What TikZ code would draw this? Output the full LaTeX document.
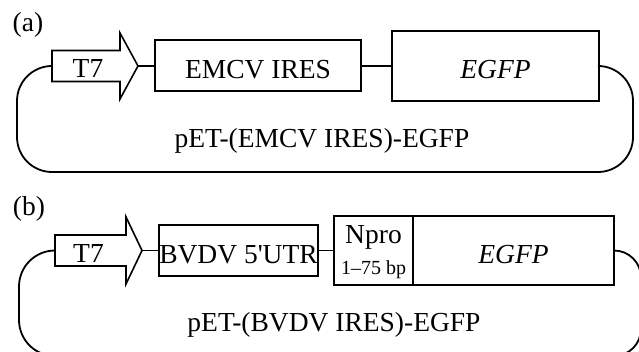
\documentclass[tikz,border=0pt]{standalone}
\usepackage{fontspec}
\setmainfont{Liberation Serif}

\tikzset{
  part/.style={draw, line width=2pt, inner sep=0pt, text height=26pt, text depth=0pt,
    font=\fontsize{27.5}{32}\selectfont},
  lbl/.style={inner sep=0pt, anchor=base, font=\fontsize{27.5}{32}\selectfont},
  wire/.style={line width=1.8pt},
}

\begin{document}
\begin{tikzpicture}[x=1pt, y=-1pt]
\useasboundingbox (0,0) rectangle (639,352);
\clip (0,0) rectangle (639,352);

\node[lbl] (labela) at (28,32) {(a)};

\coordinate (t7atail) at (52,66);
\coordinate (t7atip) at (138,66);
\draw[wire, line width=1.6pt] (t7atail) -- (52,50.5) -- (120,50.5) -- (120,33) -- (t7atip)
  -- (120,99) -- (120,81.5) -- (52,81.5) -- cycle;
\node[lbl] (t7a) at (88,78) {T7};

\node[part, minimum width=206pt, minimum height=51pt] (emcv) at (258,66) {EMCV IRES};
\node[part, minimum width=207pt, minimum height=70pt, font=\fontsize{27.5}{32}\selectfont\itshape] (egfpa) at (495.5,66) {EGFP};

\draw[wire] (t7atip) -- (emcv.west);
\draw[wire] (emcv.east) -- (egfpa.west);
\draw[wire, rounded corners=35pt] (egfpa.east) -- (633,66) -- (633,172) -- (17,172) -- (17,66) -- (t7atail);

\node[lbl] (plasmida) at (322,148) {pET-(EMCV IRES)-EGFP};

\node[lbl] (labelb) at (29,216) {(b)};

\coordinate (t7btail) at (55,250.5);
\coordinate (t7btip) at (142,250.5);
\draw[wire, line width=1.6pt] (t7btail) -- (55,235) -- (126,235) -- (126,217) -- (t7btip)
  -- (126,284) -- (126,266) -- (55,266) -- cycle;
\node[lbl] (t7b) at (88.5,263) {T7};

\node[part, minimum width=155pt, minimum height=51pt] (bvdv) at (238.5,250.5) {BVDV 5\textquotesingle UTR};
\node[part, minimum width=79pt, minimum height=69pt] (npro) at (373.5,250.5) {};
\node[part, minimum width=201pt, minimum height=69pt, font=\fontsize{27.5}{32}\selectfont\itshape] (egfpb) at (513.5,250.5) {EGFP};
\node[lbl] (nproname) at (373.5,244) {Npro};
\node[lbl, font=\fontsize{20}{24}\selectfont] (nprolen) at (373.5,275) {1–75 bp};

\draw[wire] (t7btip) -- (bvdv.west);
\draw[wire] (bvdv.east) -- (npro.west);
\draw[wire, rounded corners=27pt] (egfpb.east) -- (641,250.5) -- (641,356)
  [rounded corners=36pt] -- (19,356) -- (19,250.5) -- (t7btail);

\node[lbl] (plasmidb) at (334,331) {pET-(BVDV IRES)-EGFP};
\end{tikzpicture}
\end{document}
